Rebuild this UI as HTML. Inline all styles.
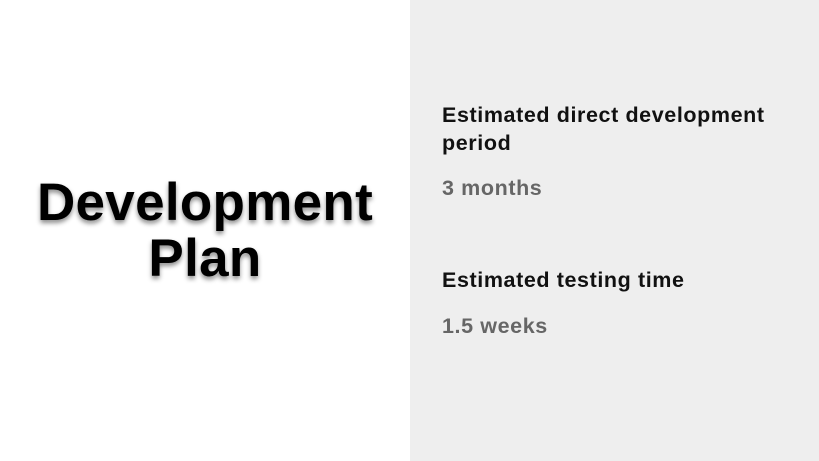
<!DOCTYPE html>
<html>
<head>
<meta charset="utf-8">
<style>
  html,body{margin:0;padding:0;}
  body{width:819px;height:461px;position:relative;overflow:hidden;background:#fff;font-family:"Liberation Sans",sans-serif;}
  #left{position:absolute;left:0;top:0;width:410px;height:461px;background:#fff;}
  #right{position:absolute;left:410px;top:0;width:409px;height:461px;background:#eeeeee;}
  #title{position:absolute;left:0;top:175px;width:410px;text-align:center;font-weight:bold;font-size:53px;line-height:56px;color:#000;text-shadow:0 3px 5px rgba(0,0,0,0.45);letter-spacing:0.3px;}
  .t{position:absolute;left:442px;font-weight:bold;font-size:21.5px;line-height:28px;letter-spacing:0.6px;white-space:nowrap;}
  .h{color:#111;}
  .v{color:#666;}
</style>
</head>
<body>
  <div id="left"></div>
  <div id="right"></div>
  <div id="title">Development<br>Plan</div>
  <div class="t h" style="top:101px">Estimated direct development<br>period</div>
  <div class="t v" style="top:174px">3 months</div>
  <div class="t h" style="top:266px">Estimated testing time</div>
  <div class="t v" style="top:312px">1.5 weeks</div>
</body>
</html>
